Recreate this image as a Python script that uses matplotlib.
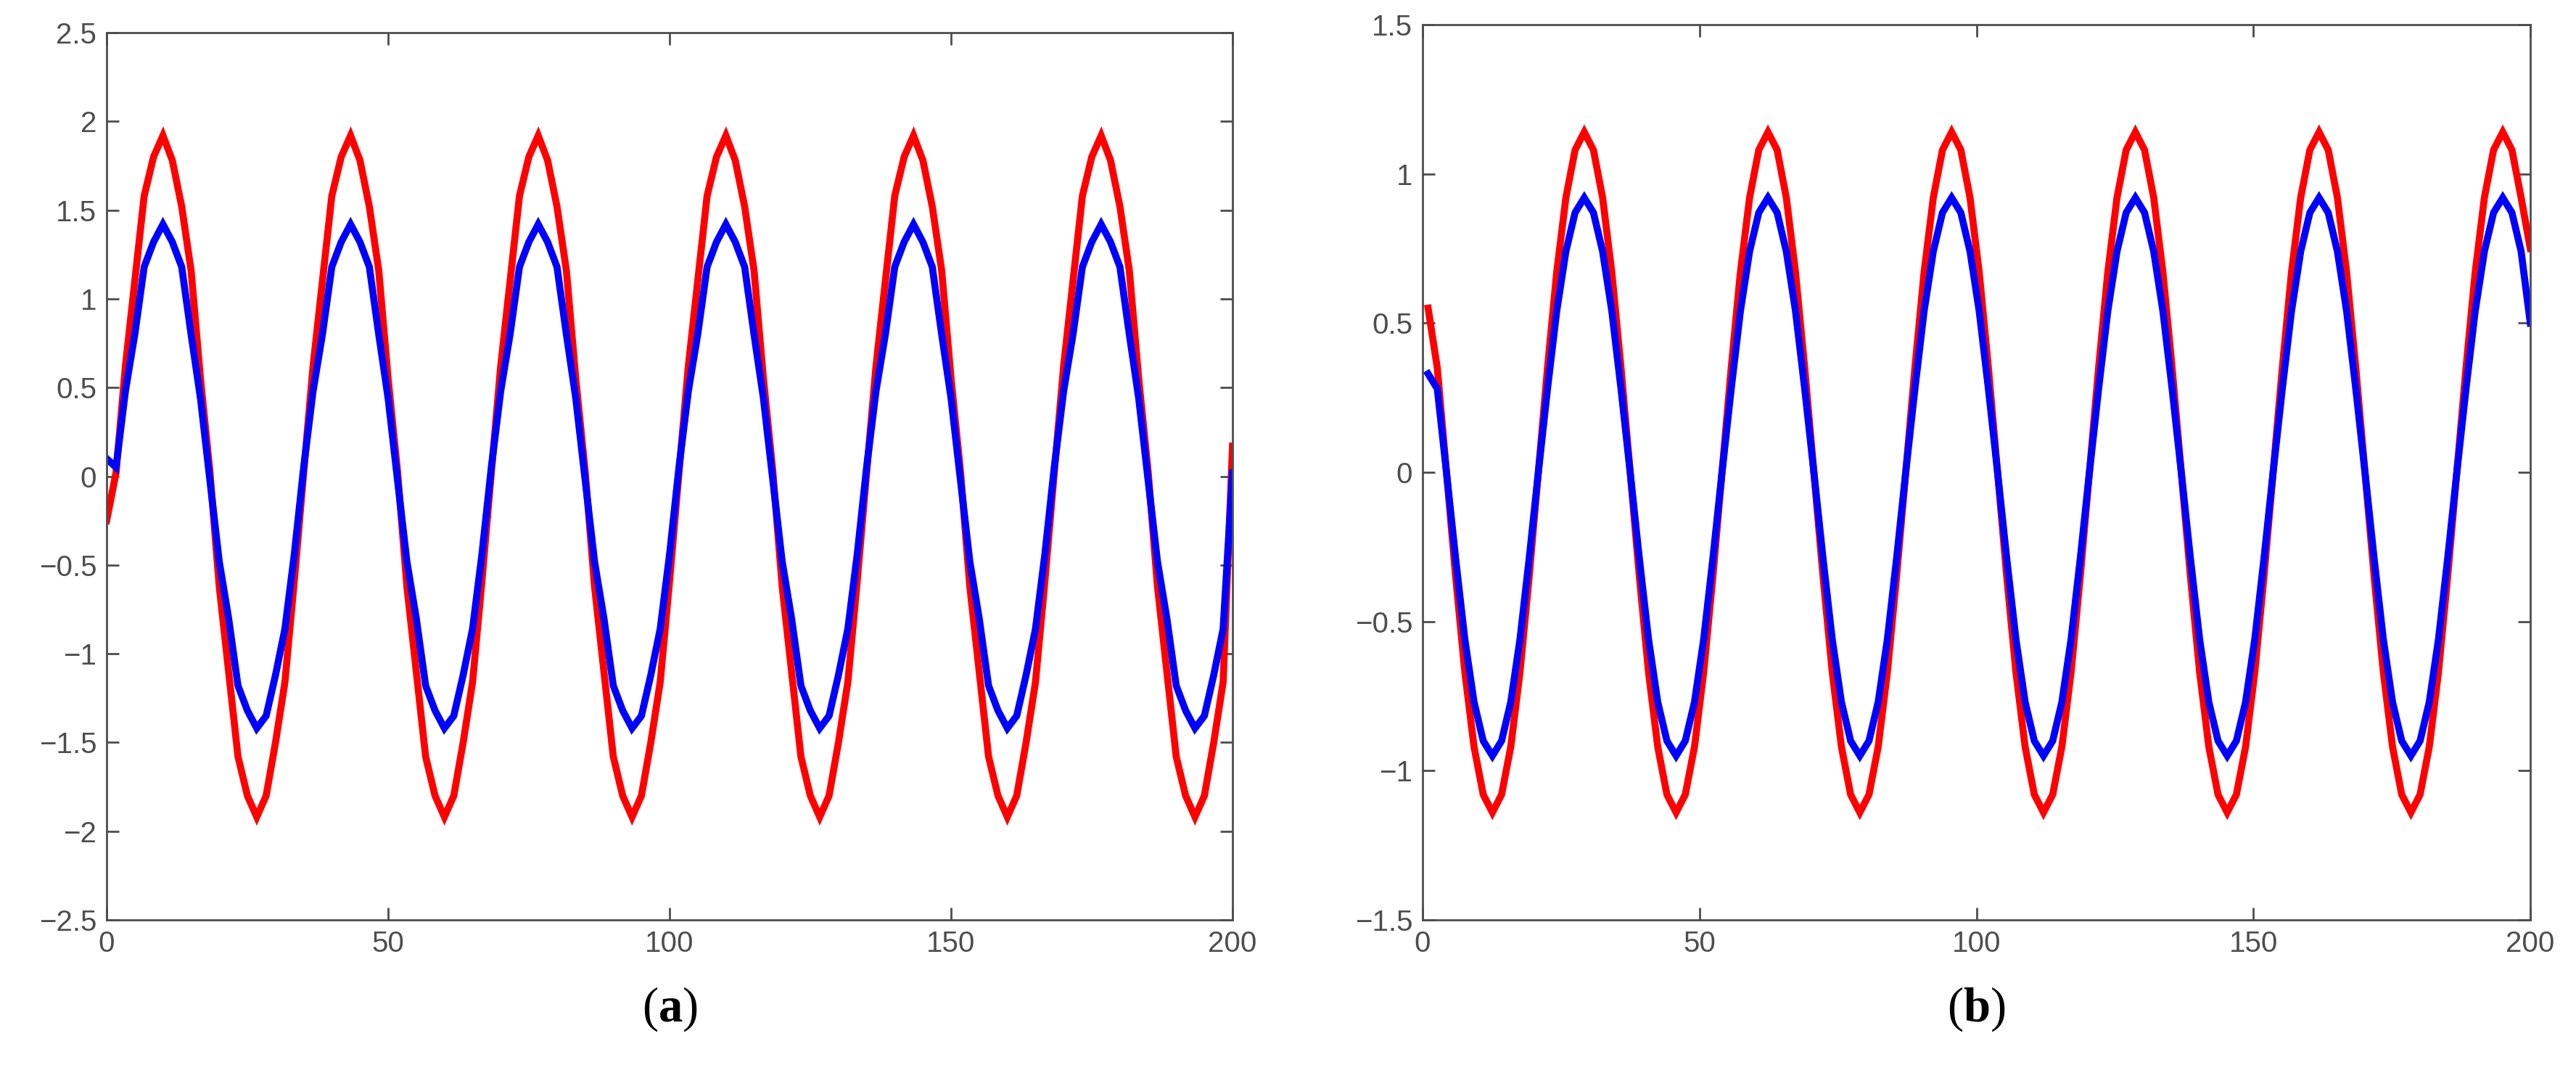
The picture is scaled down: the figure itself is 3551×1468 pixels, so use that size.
import numpy as np
import matplotlib
matplotlib.use("Agg")
import matplotlib.pyplot as plt

plt.rcParams['font.family'] = ['Liberation Sans', 'DejaVu Sans']
plt.rcParams['mathtext.fontset'] = 'custom'
plt.rcParams['mathtext.rm'] = 'Liberation Serif'
plt.rcParams['mathtext.bf'] = 'Liberation Serif:bold'

# panel (a): one cycle of samples (20 per cycle), 6 cycles + end point
a_red_cycle = [-0.59, 0.02, 0.62, 1.10, 1.58, 1.80, 1.92, 1.78, 1.52, 1.16, 0.55, 0.03,
               -0.62, -1.10, -1.58, -1.80, -1.92, -1.80, -1.50, -1.16]
a_blue_cycle = [-0.44, 0.05, 0.48, 0.80, 1.18, 1.32, 1.42, 1.32, 1.18, 0.80, 0.44, -0.02,
                -0.48, -0.80, -1.18, -1.32, -1.42, -1.35, -1.12, -0.86]
a_red = [-0.25] + (a_red_cycle * 6)[1:] + [0.17]
a_blue = [0.10] + (a_blue_cycle * 6)[1:] + [0.02]

# panel (b)
b_red_cycle = [0.67, 0.35, 0.0, -0.35, -0.67, -0.92, -1.08, -1.14, -1.08, -0.92, -0.67, -0.35,
               0.0, 0.35, 0.67, 0.92, 1.08, 1.14, 1.08, 0.92]
b_blue_cycle = [0.54, 0.28, 0.0, -0.29, -0.56, -0.77, -0.90, -0.95, -0.90, -0.77, -0.56, -0.29,
                0.0, 0.28, 0.54, 0.74, 0.87, 0.92, 0.87, 0.74]
b_red = [0.55] + (b_red_cycle * 6)[1:] + [0.75]
b_blue = [0.33] + (b_blue_cycle * 6)[1:] + [0.50]

xa = np.linspace(0, 200, len(a_red))
xb = np.linspace(1, 200, len(b_red))

fig = plt.figure(figsize=(35.51, 14.68), dpi=100)
ax1 = fig.add_axes([147 / 3551, 1 - 1268 / 1468, 1552 / 3551, 1223 / 1468])
ax2 = fig.add_axes([1961 / 3551, 1 - 1268 / 1468, 1527 / 3551, 1234 / 1468])

panels = [
    (ax1, xa, a_red, a_blue, 2.5, "a"),
    (ax2, xb, b_red, b_blue, 1.5, "b"),
]
for ax, x, red, blue, lim, lab in panels:
    ax.plot(x, red, color='#ff0000', lw=7, solid_joinstyle='miter')
    ax.plot(x, blue, color='#0000ff', lw=7, solid_joinstyle='miter')
    ax.set_xlim(0, 200)
    ax.set_ylim(-lim, lim)
    ax.set_xticks([0, 50, 100, 150, 200])
    ax.set_yticks(np.arange(-lim, lim + 0.01, 0.5))
    ax.set_yticklabels([f"{v:g}".replace('-', '\u2212') for v in np.arange(-lim, lim + 0.01, 0.5)])
    ax.tick_params(direction='in', length=12, width=2, colors='#4d4d4d',
                   labelsize=29, top=True, right=True, pad=10)
    for s in ax.spines.values():
        s.set_color('#4d4d4d')
        s.set_linewidth(2)
    pos = ax.get_position()
    fig.text(pos.x0 + pos.width / 2, 0.03, r"($\mathbf{" + lab + "}$)",
             ha='center', va='bottom', fontsize=48, family='Liberation Serif')

fig.savefig("out.png", dpi=100)
